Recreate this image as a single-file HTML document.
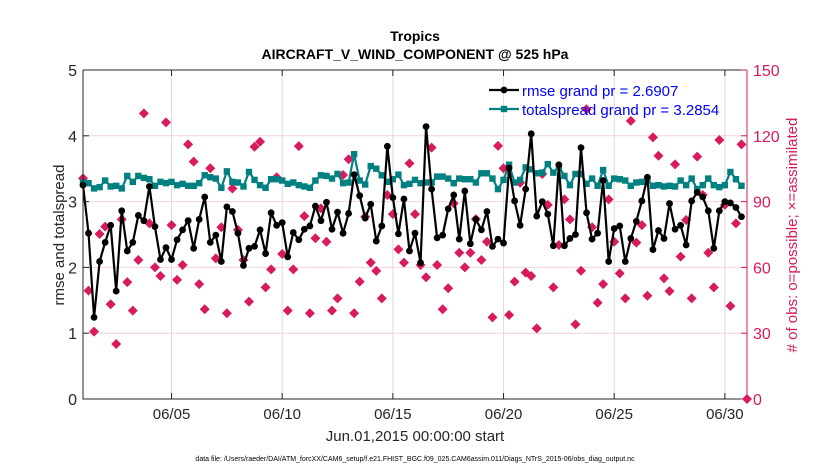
<!DOCTYPE html>
<html><head><meta charset="utf-8">
<style>
html,body{margin:0;padding:0;background:#fff;}
svg{display:block;font-family:"Liberation Sans",Arial,sans-serif;}
</style></head>
<body>
<svg id="chart" width="830" height="470" viewBox="0 0 830 470">
</svg>
<script>
const rmse = [3.25,2.52,1.24,2.09,2.38,2.64,1.64,2.86,2.25,2.38,2.79,2.71,3.23,2.62,2.12,2.30,2.12,2.42,2.57,2.71,2.29,2.73,3.07,2.38,2.49,2.09,2.92,2.85,2.52,2.03,2.29,2.32,2.57,2.21,2.83,2.64,2.68,2.16,2.53,2.42,
2.58,2.63,2.93,2.71,2.99,2.58,2.84,2.52,2.82,3.41,3.09,2.75,2.96,2.40,2.63,3.84,3.06,2.51,3.04,2.25,2.52,2.07,4.14,3.19,2.45,2.49,2.89,3.10,2.43,
3.16,2.36,2.73,2.57,2.85,2.32,2.43,2.37,3.51,3.01,2.64,3.19,4.03,2.78,3.00,2.81,2.33,3.56,2.33,2.44,2.50,3.82,2.83,2.43,2.52,3.32,2.09,2.59,
2.63,2.09,2.44,2.70,3.01,3.37,2.27,2.56,2.44,2.97,2.58,2.64,2.34,3.01,3.14,3.07,2.86,2.29,2.86,3.00,2.98,2.91,2.77];
const spread = [3.29,3.28,3.20,3.22,3.32,3.23,3.24,3.20,3.39,3.30,3.39,3.36,3.34,3.24,3.30,3.28,3.30,3.25,3.27,3.24,3.24,3.28,3.40,3.37,3.35,3.21,3.46,3.30,3.29,3.23,3.45,3.33,3.25,3.21,3.34,3.34,3.32,3.27,3.29,3.25,
3.23,3.21,3.32,3.40,3.39,3.35,3.42,3.28,3.29,3.72,3.32,3.26,3.54,3.50,3.40,3.30,3.34,3.41,3.25,3.27,3.33,3.28,3.29,3.29,3.38,3.38,3.35,3.28,3.35,
3.34,3.34,3.29,3.43,3.43,3.35,3.19,3.33,3.56,3.29,3.33,3.52,3.49,3.43,3.44,3.57,3.44,3.53,3.39,3.25,3.42,3.42,3.27,3.35,3.24,3.48,3.24,3.35,
3.34,3.32,3.24,3.29,3.30,3.33,3.24,3.25,3.23,3.24,3.23,3.32,3.25,3.35,3.19,3.25,3.35,3.25,3.22,3.25,3.45,3.34,3.24];
const obsCount = [100.6,49.4,30.7,75.2,78.6,43.2,25.1,81.9,53.3,40.3,63.4,130.2,80.1,60.0,56.1,126.1,79.3,54.3,61.1,116.1,108.2,52.4,40.9,105.2,64.1,78.3,39.1,96.0,77.1,63.4,44.4,115.0,117.3,50.9,59.1,101.1,66.1,40.3,59.1,115.3,
83.4,39.1,73.3,86.9,71.7,40.3,45.9,102.1,109.3,39.1,53.5,83.1,62.2,58.4,45.9,93.0,84.3,68.2,62.2,107.4,84.3,61.1,55.5,114.6,61.1,40.9,50.5,89.2,66.7,
60.0,66.7,82.0,63.4,71.7,37.2,115.4,105.2,38.3,53.5,98.6,57.6,56.1,32.2,102.6,88.5,50.9,70.2,91.0,81.9,34.0,58.5,132.1,78.3,43.9,52.4,91.0,71.7,
57.3,45.9,126.8,71.3,79.3,47.1,119.3,110.9,55.0,49.2,107.0,64.9,81.6,45.9,110.5,93.0,66.7,50.9,118.1,88.5,42.4,80.1,116.1,0];
const xTickLabels = ["06/05","06/10","06/15","06/20","06/25","06/30"];
const xTickDays = [4,9,14,19,24,29];
const yTicks = [0,1,2,3,4,5];
const y2Ticks = [0,30,60,90,120,150];

const NS="http://www.w3.org/2000/svg";
const svg=document.getElementById('chart');
const L=83,R=747,T=70,B=399;
const X=d=>L+(d/30)*(R-L);
const Y=v=>B-(v/5)*(B-T);
const Y2=c=>B-(c/150)*(B-T);
function mk(tag,attrs,parent){const e=document.createElementNS(NS,tag);for(const k in attrs)e.setAttribute(k,attrs[k]);(parent||svg).appendChild(e);return e;}

// grid
const grid=mk('g',{});


xTickDays.forEach(d=>{const l=mk('line',{x1:X(d),x2:X(d),y1:T,y2:B,stroke:'#dcdcdc','stroke-width':1},grid);

});
y2Ticks.slice(1,-1).forEach(c=>{const l=mk('line',{x1:L,x2:R,y1:Y2(c),y2:Y2(c),stroke:'#f0d4dd','stroke-width':1},grid);

});

// obs markers
const og=mk('g',{fill:'#d81b5c'});


obsCount.forEach((c,i)=>{const x=X(i*0.25),y=Y2(c);const p=mk('path',{d:`M${x} ${y-5}L${x+5} ${y}L${x} ${y+5}L${x-5} ${y}Z`},og);

});

// spread line
const sg=mk('g',{});


const sp=mk('polyline',{points:spread.map((v,i)=>X(i*0.25)+','+Y(v)).join(' '),fill:'none',stroke:'#008080','stroke-width':2.2},sg);


spread.forEach((v,i)=>{const r=mk('rect',{x:X(i*0.25)-3.2,y:Y(v)-3.2,width:6.4,height:6.4,fill:'#008080'},sg);

});

// rmse line
const rg=mk('g',{});


const rp=mk('polyline',{points:rmse.map((v,i)=>X(i*0.25)+','+Y(v)).join(' '),fill:'none',stroke:'#000','stroke-width':2.2},rg);


rmse.forEach((v,i)=>{const c=mk('circle',{cx:X(i*0.25),cy:Y(v),r:3.4,fill:'#000'},rg);

});

// axes frame
const ax=mk('g',{});


mk('path',{d:`M${L} ${T}V${B}H${R}M${L} ${T}H${R}`,stroke:'#262626',fill:'none','stroke-width':1},ax);
mk('line',{x1:R,x2:R,y1:T,y2:B,stroke:'#d81b5c','stroke-width':1},ax);
yTicks.forEach(v=>{mk('line',{x1:L,x2:L+6,y1:Y(v),y2:Y(v),stroke:'#262626'},ax);
const t=mk('text',{x:L-6,y:Y(v)+6,'text-anchor':'end','font-size':16,fill:'#262626'},ax);t.textContent=v;

});
y2Ticks.forEach(c=>{mk('line',{x1:R-6,x2:R,y1:Y2(c),y2:Y2(c),stroke:'#d81b5c'},ax);
const t=mk('text',{x:R+6,y:Y2(c)+6,'font-size':16,fill:'#d81b5c'},ax);t.textContent=c;

});
xTickDays.forEach((d,i)=>{mk('line',{x1:X(d),x2:X(d),y1:B,y2:B-6,stroke:'#262626'},ax);mk('line',{x1:X(d),x2:X(d),y1:T,y2:T+6,stroke:'#262626'},ax);
const t=mk('text',{x:X(d),y:B+20,'text-anchor':'middle','font-size':15,fill:'#262626'},ax);t.textContent=xTickLabels[i];

});
</script>
<svg width="0" height="0" style="position:absolute"></svg>
<script>
const s2=document.getElementById('chart');
s2.insertAdjacentHTML('beforeend',`
<text x="415" y="41" text-anchor="middle" font-size="14" font-weight="bold" fill="#000">Tropics</text>
<text x="415" y="59" text-anchor="middle" font-size="14" font-weight="bold" fill="#000">AIRCRAFT_V_WIND_COMPONENT @ 525 hPa</text>
<text x="64" y="235" text-anchor="middle" font-size="15" fill="#262626" transform="rotate(-90 64 235)">rmse and totalspread</text>
<text x="797" y="235" text-anchor="middle" font-size="15" fill="#d81b5c" transform="rotate(-90 797 235)"># of obs: o=possible; &#215;=assimilated</text>
<text x="415" y="441" text-anchor="middle" font-size="15" fill="#262626">Jun.01,2015 00:00:00 start</text>
<text x="415" y="461" text-anchor="middle" font-size="7" fill="#000">data file: /Users/raeder/DAI/ATM_forcXX/CAM6_setup/f.e21.FHIST_BGC.f09_025.CAM6assim.011/Diags_NTrS_2015-06/obs_diag_output.nc</text>
<g>
<g>
<line x1="489" y1="90" x2="519" y2="90" stroke="#000" stroke-width="2.2"/><circle cx="504" cy="90" r="3.4" fill="#000"/>
<text x="522" y="96" font-size="15" fill="#0000ff">rmse grand pr = 2.6907</text></g>
<g>
<line x1="489" y1="109" x2="519" y2="109" stroke="#008080" stroke-width="2.2"/><rect x="500.8" y="105.8" width="6.4" height="6.4" fill="#008080"/>
<text x="522" y="115" font-size="15" fill="#0000ff">totalspread grand pr = 3.2854</text></g>
</g>`);
</script>
</body></html>
